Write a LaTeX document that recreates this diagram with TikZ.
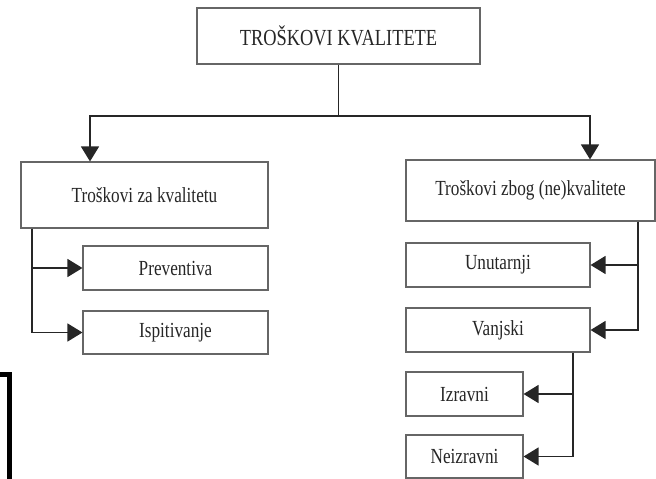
\documentclass[tikz,border=0pt]{standalone}
\usepackage{fontspec}
\setmainfont{Liberation Serif}[FakeStretch=0.8]
\usetikzlibrary{arrows.meta}
\tikzset{
  box/.style={draw=gray!80!black, line width=1.1pt, rectangle, inner sep=0pt,
    font=\fontsize{21.5}{24}\selectfont, text=black!85},
  link/.style={draw=black!85, line width=1.4pt},
  arr/.style={link, -{Triangle[length=15pt,width=18pt]}},
}
\begin{document}
\begin{tikzpicture}[x=1pt,y=-1pt]
  \useasboundingbox (0,0) rectangle (656,479);

  % main heading
  \node[box, minimum width=283pt, minimum height=56pt, font=\fontsize{23}{26}\selectfont] (top) at (338.5,36) {TROŠKOVI KVALITETE};

  % two main groups
  \node[box, minimum width=247pt, minimum height=66pt] (left) at (144.5,195) {Troškovi za kvalitetu};
  \node[box, minimum width=249pt, minimum height=61pt] (right) at (530.5,190.5) {Troškovi zbog (ne)kvalitete};

  % costs for quality
  \node[box, minimum width=185pt, minimum height=44pt] (prev) at (175.5,268) {Preventiva};
  \node[box, minimum width=185pt, minimum height=43pt] (ispit) at (175.5,332.5) {Ispitivanje};

  % costs of (non)quality
  \node[box, minimum width=184pt, minimum height=44pt] (unut) at (498,265) {Unutarnji};
  \node[box, minimum width=184pt, minimum height=44pt] (vanj) at (498,330) {Vanjski};
  \node[box, minimum width=117pt, minimum height=44pt] (izr) at (464.5,394) {Izravni};
  \node[box, minimum width=117pt, minimum height=43pt] (neiz) at (464.5,456.5) {Neizravni};

  % branching points
  \coordinate (j) at (top.south |- 0,116);
  \coordinate (ltop) at (90,0 |- left.north);
  \coordinate (rtop) at (590,0 |- right.north);
  \coordinate (lsplit) at (32,0 |- left.south);
  \coordinate (rsplit) at (638,0 |- right.south);
  \coordinate (vsplit) at (573,0 |- vanj.south);

  % connectors
  \draw[link] (top.south) -- (j);
  \draw[arr] (j) -| (ltop);
  \draw[arr] (j) -| (rtop);
  \draw[arr] (lsplit) |- (prev.west);
  \draw[arr] (lsplit) |- (ispit.west);
  \draw[arr] (rsplit) |- (unut.east);
  \draw[arr] (rsplit) |- (vanj.east);
  \draw[arr] (vsplit) |- (izr.east);
  \draw[arr] (vsplit) |- (neiz.east);

  % bracket in the lower left corner
  \draw[line width=5pt, miter limit=10] (0,374.5) -- (9.5,374.5) -- (9.5,482);
\end{tikzpicture}
\end{document}
